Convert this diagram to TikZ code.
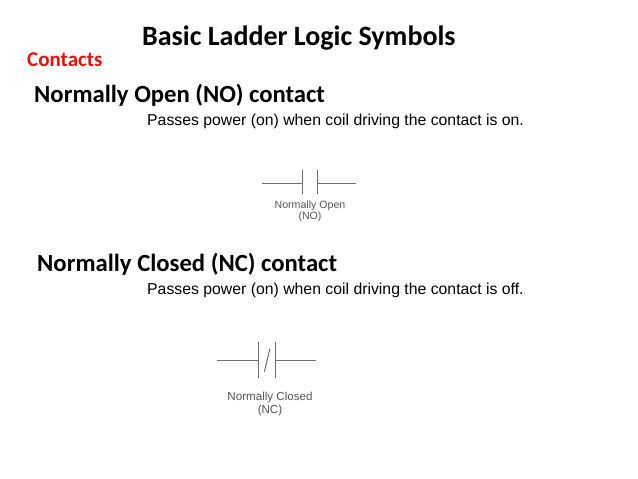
\documentclass[tikz,border=0pt]{standalone}
\usepackage{fontspec}
\setmainfont{Liberation Sans}
\newfontfamily\calib{Carlito}
\definecolor{cred}{HTML}{E3120B}
\definecolor{symgray}{HTML}{707070}
\definecolor{lblgray}{HTML}{555555}
\begin{document}
\begin{tikzpicture}[x=1pt,y=-1pt,
  txt/.style={inner sep=0pt,anchor=west},
  wire/.style={draw=symgray,line width=1pt},
  lbl/.style={inner sep=0pt,text=lblgray,align=center}]
\useasboundingbox (0,0) rectangle (638,479);
\node[txt,font=\calib\bfseries\fontsize{28}{32}\selectfont] (title) at (142,38) {Basic Ladder Logic Symbols};
\node[txt,font=\calib\bfseries\fontsize{21}{24}\selectfont,text=cred] (contacts) at (27,60) {Contacts};
\node[txt,font=\calib\bfseries\fontsize{24.7}{28}\selectfont] (nohead) at (34,95) {Normally Open (NO) contact};
\node[txt,font=\fontsize{15.8}{18}\selectfont] (nodesc) at (147,121) {Passes power (on) when coil driving the contact is on.};
\node[txt,font=\calib\bfseries\fontsize{24.7}{28}\selectfont] (nchead) at (37,264) {Normally Closed (NC) contact};
\node[txt,font=\fontsize{15.8}{18}\selectfont] (ncdesc) at (147,290) {Passes power (on) when coil driving the contact is off.};
% NO symbol
\coordinate (noL) at (262,183);
\coordinate (noA) at (302,183);
\coordinate (noB) at (317.5,183);
\coordinate (noR) at (356,183);
\draw[wire] (noL) -- (noA);
\draw[wire] (noB) -- (noR);
\draw[wire] (302,170) -- (302,194);
\draw[wire] (317.5,170) -- (317.5,194);
\node[lbl,font=\fontsize{10.6}{9.5}\selectfont] (nolbl) at (310,211.5) {Normally Open\\(NO)};
% NC symbol
\coordinate (ncL) at (217,360);
\coordinate (ncA) at (258,360);
\coordinate (ncB) at (275,360);
\coordinate (ncR) at (316,360);
\draw[wire] (ncL) -- (ncA);
\draw[wire] (ncB) -- (ncR);
\draw[wire] (258,342) -- (258,378);
\draw[wire] (275,342) -- (275,378);
\draw[wire] (264.3,372) -- (270,348.5);
\node[lbl,font=\fontsize{11.6}{12.5}\selectfont] (nclbl) at (270,404) {Normally Closed\\(NC)};
\end{tikzpicture}
\end{document}
